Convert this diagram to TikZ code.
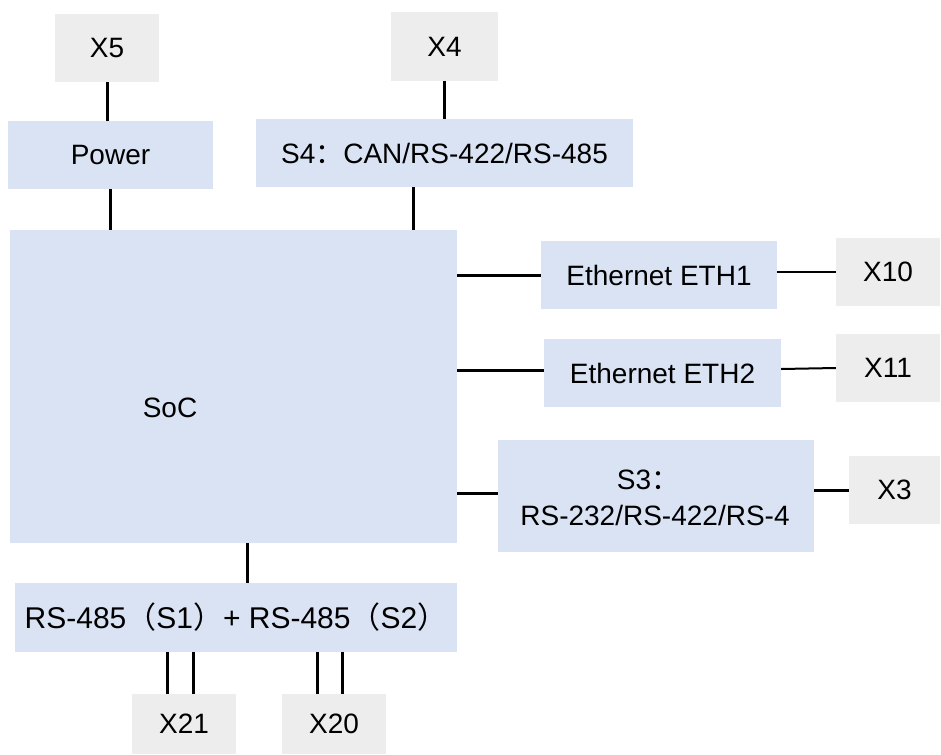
\documentclass[tikz,border=0pt]{standalone}
\usepackage{fontspec}
\setmainfont{Liberation Sans}
\newfontfamily\cjk{Noto Sans CJK SC}
\usetikzlibrary{calc}
\definecolor{boxblue}{HTML}{DAE3F3}
\definecolor{boxgray}{HTML}{EDEDED}
\begin{document}
\begin{tikzpicture}[x=1pt,y=-1pt,
  every node/.style={font=\fontsize{28}{34}\selectfont, inner sep=0pt, align=center},
  bluebox/.style={fill=boxblue, draw=none},
  graybox/.style={fill=boxgray, draw=none},
  link/.style={line width=3pt, draw=black},
  thinlink/.style={line width=2pt, draw=black}]
\useasboundingbox (0,0) rectangle (941,754);
% boxes
\node[graybox, minimum width=104pt, minimum height=68pt] (x5) at (107,48) {X5};
\node[graybox, minimum width=107pt, minimum height=69pt] (x4) at (444.5,46.5) {X4};
\node[bluebox, minimum width=205pt, minimum height=68pt] (power) at (110.5,155) {Power};
\node[bluebox, minimum width=377pt, minimum height=68pt] (s4) at (444.5,153) {S4{\cjk ：}CAN/RS-422/RS-485};
\node[bluebox, minimum width=447pt, minimum height=313pt] (soc) at (233.5,386.5) {};
\node (soclabel) at (170,408) {SoC};
\node[bluebox, minimum width=236pt, minimum height=68pt] (eth1) at (659,275) {Ethernet ETH1};
\node[bluebox, minimum width=237pt, minimum height=68pt] (eth2) at (662.5,373) {Ethernet ETH2};
\node[bluebox, minimum width=316pt, minimum height=112pt] (s3) at (656,496) {};
\node (s3a) at (648,480) {S3{\cjk ：}};
\node (s3b) at (655,515) {RS-232/RS-422/RS-4};
\node[graybox, minimum width=104pt, minimum height=68pt] (x10) at (888,272) {X10};
\node[graybox, minimum width=104pt, minimum height=68pt] (x11) at (888,368) {X11};
\node[graybox, minimum width=91pt, minimum height=68pt] (x3) at (894.5,490) {X3};
\node[bluebox, minimum width=442pt, minimum height=69pt, font=\fontsize{30}{36}\selectfont] (bus) at (236,617.5) {RS-485{\cjk （}S1{\cjk ）}+ RS-485{\cjk （}S2{\cjk ）}};
\node[graybox, minimum width=104pt, minimum height=60pt] (x21) at (184,724) {X21};
\node[graybox, minimum width=104pt, minimum height=60pt] (x20) at (334,724) {X20};
% connectors
\draw[link] (x5.south) -- (x5.south |- power.north);
\draw[link] (power.south) -- (power.south |- soc.north);
\draw[link] (x4.south) -- (x4.south |- s4.north);
\coordinate (s4b) at ($(s4.south west)!0.419!(s4.south east)$);
\draw[link] (s4b) -- (s4b |- soc.north);
\draw[link] (eth1.west -| soc.east) -- (eth1.west);
\draw[thinlink] (eth1.east |- x10.west) -- (x10.west);
\draw[link] ([yshift=3pt]eth2.west -| soc.east) -- ([yshift=3pt]eth2.west);
\draw[thinlink] ([yshift=4pt]eth2.east) -- (x11.west);
\draw[link] ([yshift=3pt]s3.west -| soc.east) -- ([yshift=3pt]s3.west);
\draw[link] (x3.west -| s3.east) -- (x3.west);
\coordinate (busn) at ($(bus.north west)!0.525!(bus.north east)$);
\draw[link] (busn) -- (busn |- soc.south);
\draw[link] ([xshift=-17pt]x21.north) -- ([xshift=-17pt]x21.north |- bus.south);
\draw[link] ([xshift=9pt]x21.north) -- ([xshift=9pt]x21.north |- bus.south);
\draw[link] ([xshift=-17pt]x20.north) -- ([xshift=-17pt]x20.north |- bus.south);
\draw[link] ([xshift=8pt]x20.north) -- ([xshift=8pt]x20.north |- bus.south);
\end{tikzpicture}
\end{document}
